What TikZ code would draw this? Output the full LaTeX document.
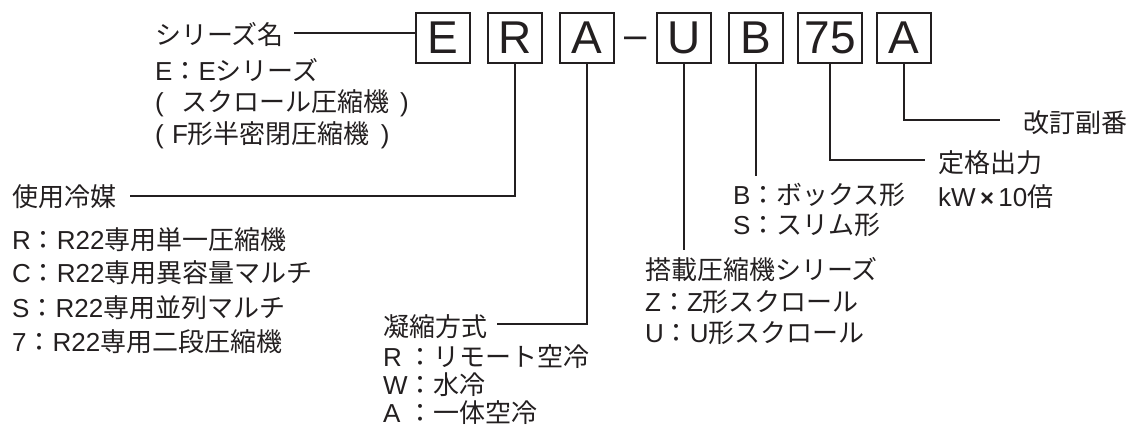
\documentclass[tikz,border=0pt]{standalone}
\usepackage{fontspec}
\setmainfont{Liberation Sans}
\newfontfamily\jp{Noto Sans CJK JP}
\newcommand\zcolon{{\jp ：}}
\definecolor{ink}{HTML}{231F20}
\begin{document}
\begin{tikzpicture}[x=1pt,y=-1pt,
  lbl/.style={anchor=west, inner sep=0pt, font=\fontsize{26}{26}\selectfont, text=ink},
  letterbox/.style={draw=ink, line width=2pt, minimum width=54pt, minimum height=50.5pt, inner sep=0pt, font=\fontsize{46}{46}\selectfont, text=ink},
  conn/.style={draw=ink, line width=1.2pt}]
\useasboundingbox (0,0) rectangle (1133,432);
% code boxes
\node[letterbox] (boxE)  at (443,37.75) {E};
\node[letterbox] (boxR)  at (515,37.75) {R};
\node[letterbox] (boxA)  at (587,37.75) {A};
\node[inner sep=0pt, anchor=base, font=\fontsize{40}{40}\selectfont, text=ink] (dash) at (636,48) {–};
\node[letterbox] (boxU)  at (684,37.75) {U};
\node[letterbox] (boxB)  at (756,37.75) {B};
\node[letterbox, minimum width=64pt] (box75) at (830,37.75) {75};
\node[letterbox] (boxA2) at (904,37.75) {A};
% series name
\node[lbl] (serName) at (155,35) {\jp シリーズ名};
\node[lbl] (serE) at (155,70) {E\zcolon E{\jp シリーズ}};
\node[lbl] (serS) at (155,103) {\makebox[1em][l]{(}{\jp スクロール圧縮機}\makebox[0.75em][r]{)}};
\node[lbl] (serF) at (155,135) {\makebox[0.65em][l]{(}F{\jp 形半密閉圧縮機}\makebox[0.75em][r]{)}};
% refrigerant
\node[lbl] (use)  at (12,197) {\jp 使用冷媒};
\node[lbl] (useR) at (12,240) {R\zcolon R22{\jp 専用単一圧縮機}};
\node[lbl] (useC) at (12,273) {C\zcolon R22{\jp 専用異容量マルチ}};
\node[lbl] (useS) at (12,308) {S\zcolon R22{\jp 専用並列マルチ}};
\node[lbl] (use7) at (12,342) {7\zcolon R22{\jp 専用二段圧縮機}};
% condensing
\node[lbl] (cond)  at (383,327) {\jp 凝縮方式};
\node[lbl] (condR) at (383,357) {\makebox[0.944em][l]{R}\zcolon{\jp リモート空冷}};
\node[lbl] (condW) at (383,385) {W\zcolon{\jp 水冷}};
\node[lbl] (condA) at (383,413) {\makebox[0.944em][l]{A}\zcolon{\jp 一体空冷}};
% compressor series
\node[lbl] (comp)  at (645,270) {\jp 搭載圧縮機シリーズ};
\node[lbl] (compZ) at (645,302) {Z\zcolon Z{\jp 形スクロール}};
\node[lbl] (compU) at (645,333) {U\zcolon U{\jp 形スクロール}};
% shape
\node[lbl] (shapeB) at (733,195) {B\zcolon{\jp ボックス形}};
\node[lbl] (shapeS) at (733,225) {S\zcolon{\jp スリム形}};
% rating
\node[lbl] (rate)  at (938,163) {\jp 定格出力};
\node[lbl] (rateU) at (938,197) {kW\,{\fontsize{24}{24}\selectfont\bfseries ×}\,10{\jp 倍}};
% revision
\node[lbl] (rev) at (1023,123) {\jp 改訂副番};
% connectors
\draw[conn] ([xshift=10pt,yshift=2pt]serName.east) -- ([yshift=2pt]serName.east -| boxE.west);
\draw[conn] ([xshift=14pt,yshift=1pt]use.east) -| (boxR.south);
\draw[conn] ([xshift=10pt,yshift=3pt]cond.east) -| (boxA.south);
\draw[conn] (boxU.south) -- ([yshift=8pt]boxU.south |- comp.north);
\draw[conn] (boxB.south) -- ([yshift=7pt]boxB.south |- shapeB.north);
\draw[conn] (box75.south) |- ([xshift=-13pt,yshift=3pt]rate.west);
\draw[conn] (boxA2.south) |- ([xshift=-23pt,yshift=3pt]rev.west);
\end{tikzpicture}
\end{document}
